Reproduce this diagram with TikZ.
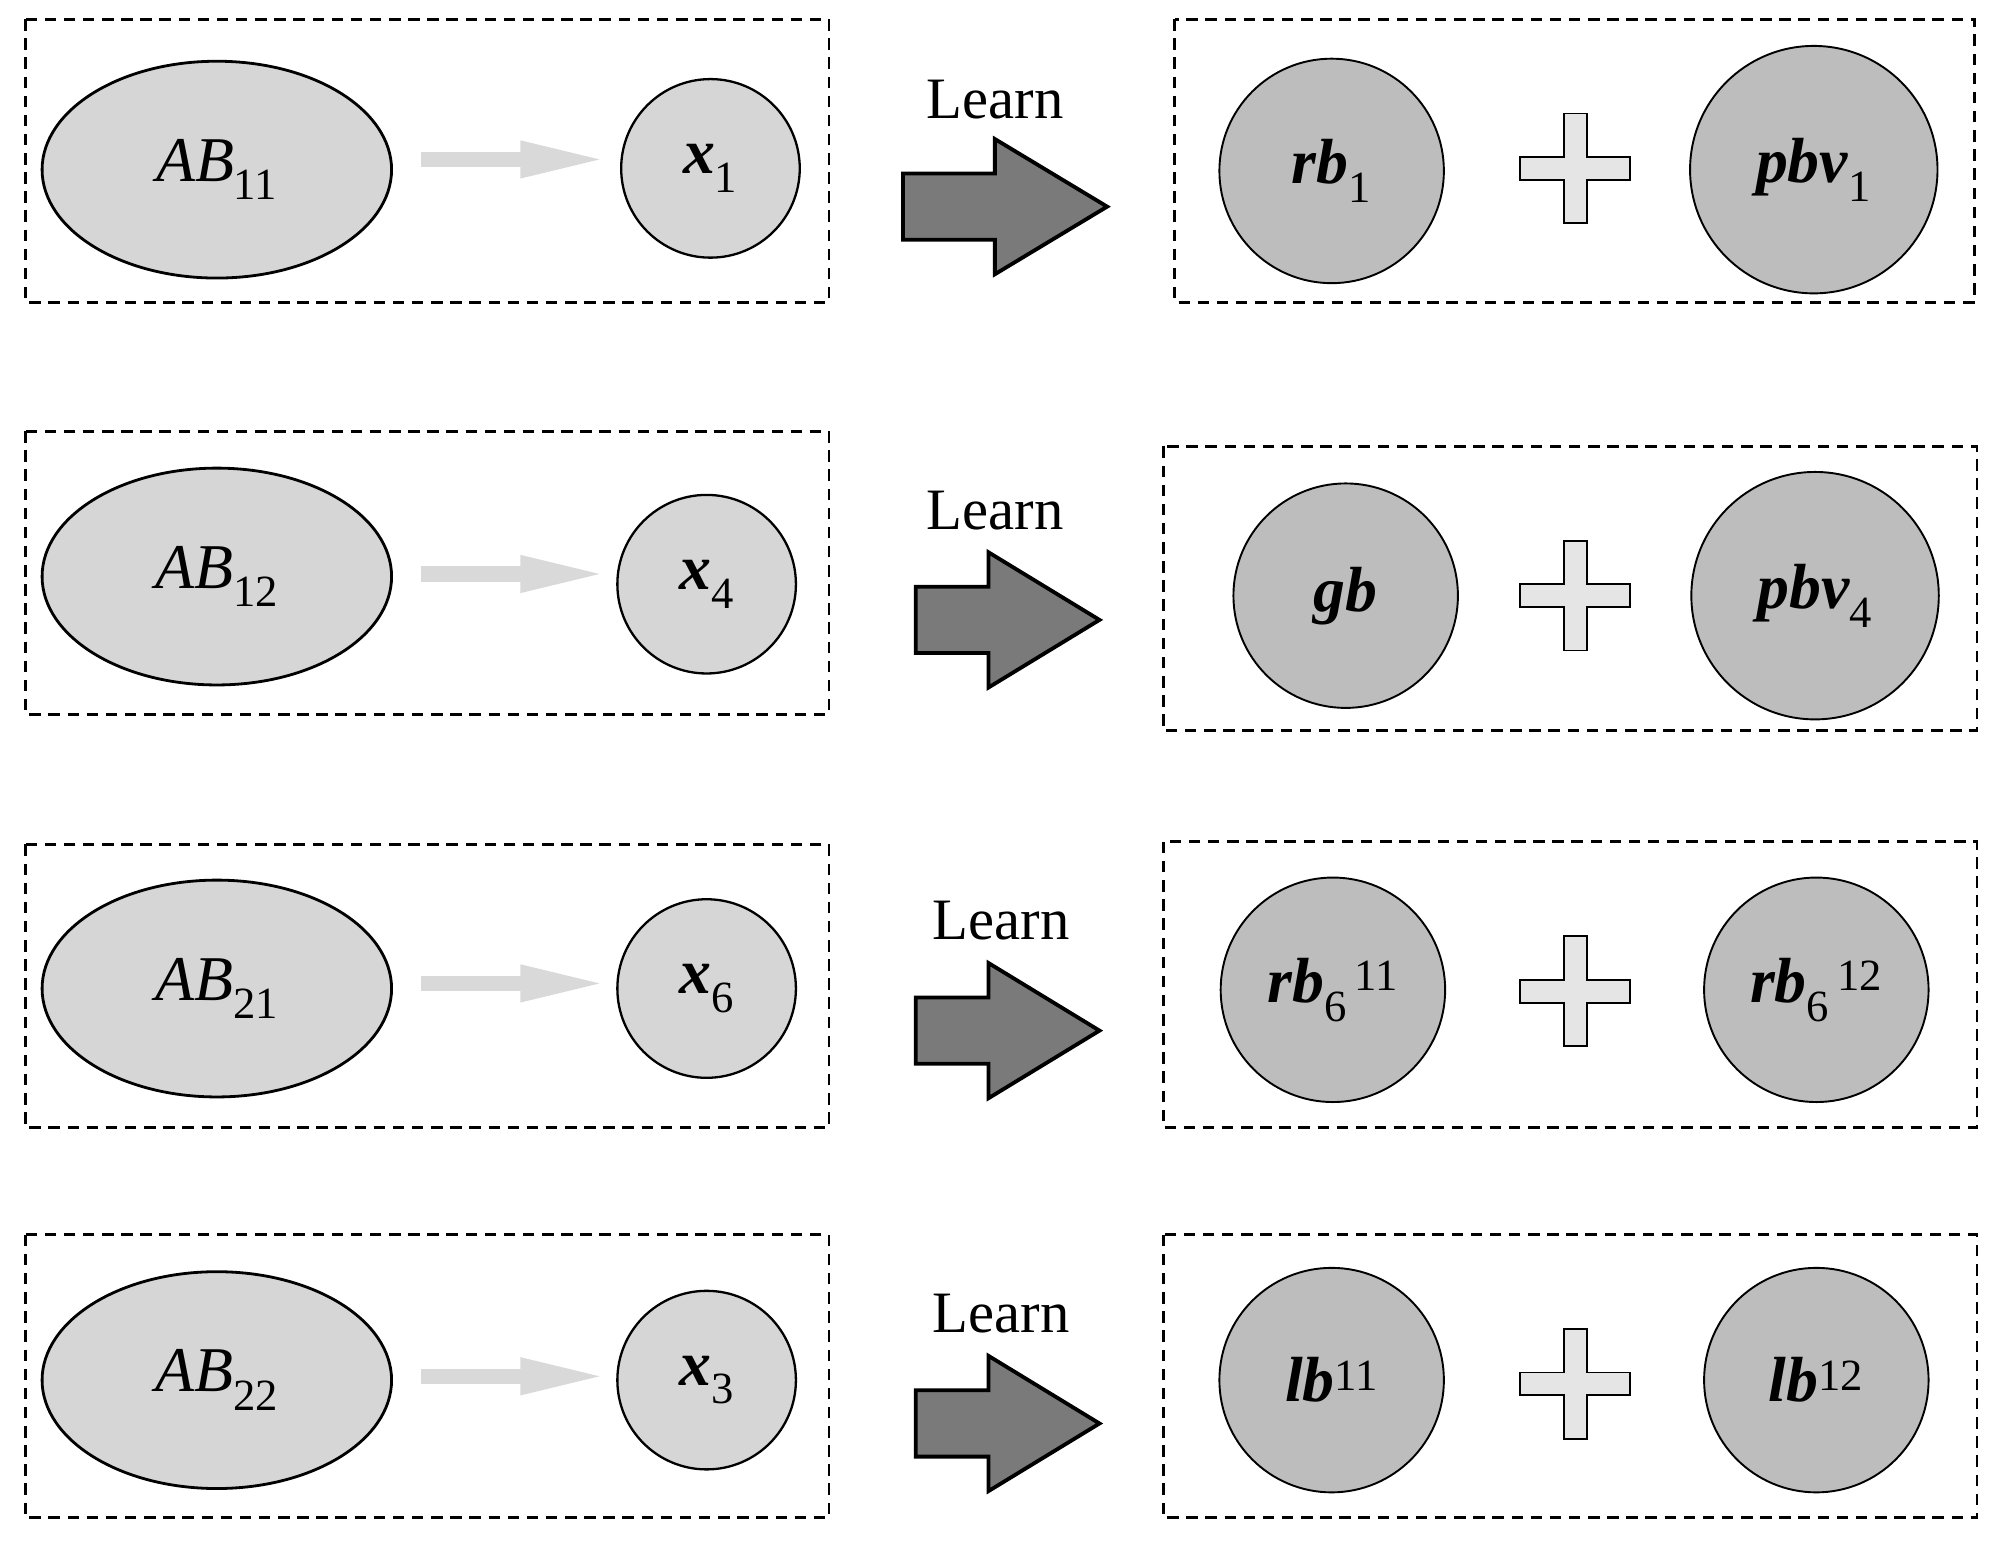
\documentclass[tikz,border=0pt]{standalone}
\usepackage{fontspec}
\setmainfont{Liberation Serif}
\usetikzlibrary{shapes.geometric}
\begin{document}
\begin{tikzpicture}[x=1pt,y=-1pt,
  box/.style={draw,dashed,line width=2.2pt,dash pattern=on 9pt off 6pt},
  ell/.style={draw,ellipse,line width=2.2pt,fill=black!16,inner sep=0pt},
  sm/.style={draw,circle,line width=1.8pt,fill=black!16,inner sep=0pt},
  big/.style={draw,circle,line width=1.5pt,fill=black!26,inner sep=0pt},
  txt/.style={font=\fontsize{50}{52}\selectfont},
  lrn/.style={font=\fontsize{46}{48}\selectfont},
  ]
\useasboundingbox (0,0) rectangle (1568,1215);
\newcommand{\ga}[2]{\fill[black!15] (330,#1-6) rectangle (410,#1+6) coordinate (#2);
  \fill[black!15] (408,#1-15) -- (470,#1) -- (408,#1+15) -- cycle;}
\newcommand{\bigarrow}[4]{% x0 xs tip ycenter
  \draw[line width=3pt,fill=black!52,line join=miter] (#1,#4-26) -- (#2,#4-26) -- (#2,#4-53) -- (#3,#4) -- (#2,#4+53) -- (#2,#4+26) -- (#1,#4+26) -- cycle;}
\newcommand{\plus}[3]{\draw[line width=1.5pt,fill=black!10] (#1-9,#2-43) -- (#1+9,#2-43) -- (#1+9,#2-9) -- (#1+43,#2-9) -- (#1+43,#2+9) -- (#1+9,#2+9) -- (#1+9,#2+43) -- (#1-9,#2+43) -- (#1-9,#2+9) -- (#1-43,#2+9) -- (#1-43,#2-9) -- (#1-9,#2-9) -- cycle; \coordinate (#3) at (#1,#2);}
\newcommand{\bi}[1]{\textbf{\textit{#1}}}
% row 1
\draw[box] (20,15) rectangle (650,237);
\node[ell,minimum width=274pt,minimum height=170pt,txt] (e1) at (170,133) {\textit{AB}\textsubscript{11}};
\ga{125}{g1}
\node[sm,minimum size=140pt,txt] (c1) at (557,132) {\bi{x}\textsubscript{1}};
\node[lrn] (l1) at (780,78) {Learn};
\bigarrow{708}{780}{868}{162}
\draw[box] (921,15) rectangle (1548,237);
\node[big,minimum size=176pt,txt] (r1a) at (1044,134) {\bi{rb}\textsubscript{1}};
\plus{1235}{132}{p1}
\node[big,minimum size=194pt,txt] (r1b) at (1422,133) {\bi{pbv}\textsubscript{1}};
% row 2
\draw[box] (20,338) rectangle (650,560);
\node[ell,minimum width=274pt,minimum height=170pt,txt] (e2) at (170,452) {\textit{AB}\textsubscript{12}};
\ga{450}{g2}
\node[sm,minimum size=140pt,txt] (c2) at (554,458) {\bi{x}\textsubscript{4}};
\node[lrn] (l2) at (780,400) {Learn};
\bigarrow{718}{775}{862}{486}
\draw[box] (912,350) rectangle (1550,573);
\node[big,minimum size=176pt,txt] (r2a) at (1055,467) {\bi{gb}};
\plus{1235}{467}{p2}
\node[big,minimum size=194pt,txt] (r2b) at (1423,467) {\bi{pbv}\textsubscript{4}};
% row 3
\draw[box] (20,662) rectangle (650,884);
\node[ell,minimum width=274pt,minimum height=170pt,txt] (e3) at (170,775) {\textit{AB}\textsubscript{21}};
\ga{771}{g3}
\node[sm,minimum size=140pt,txt] (c3) at (554,775) {\bi{x}\textsubscript{6}};
\node[lrn] (l3) at (785,722) {Learn};
\bigarrow{718}{775}{862}{808}
\draw[box] (912,660) rectangle (1550,884);
\node[big,minimum size=176pt,txt] (r3a) at (1045,776) {\bi{rb}\textsubscript{6}\textsuperscript{\,11}};
\plus{1235}{777}{p3}
\node[big,minimum size=176pt,txt] (r3b) at (1424,776) {\bi{rb}\textsubscript{6}\textsuperscript{\,12}};
% row 4
\draw[box] (20,968) rectangle (650,1190);
\node[ell,minimum width=274pt,minimum height=170pt,txt] (e4) at (170,1082) {\textit{AB}\textsubscript{22}};
\ga{1079}{g4}
\node[sm,minimum size=140pt,txt] (c4) at (554,1082) {\bi{x}\textsubscript{3}};
\node[lrn] (l4) at (785,1030) {Learn};
\bigarrow{718}{775}{862}{1116}
\draw[box] (912,968) rectangle (1550,1190);
\node[big,minimum size=176pt,txt] (r4a) at (1044,1082) {\bi{lb}\textsuperscript{11}};
\plus{1235}{1085}{p4}
\node[big,minimum size=176pt,txt] (r4b) at (1424,1082) {\bi{lb}\textsuperscript{12}};
\end{tikzpicture}
\end{document}
